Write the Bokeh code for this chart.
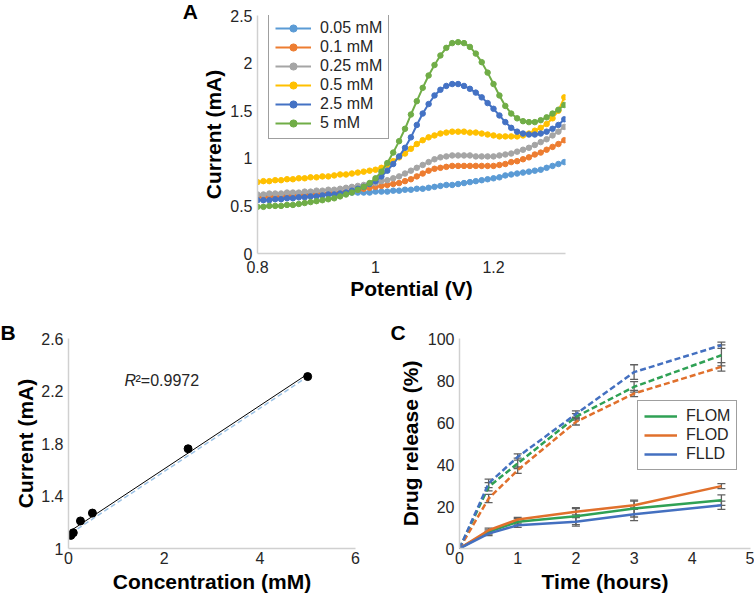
from bokeh.plotting import figure
from bokeh.models import (Legend, LegendItem, Label, Whisker, ColumnDataSource, Div, Title,
                          FixedTicker, CustomJSTickFormatter, Range1d, TeeHead)
from bokeh.layouts import row, column
from bokeh.embed import file_html
from bokeh.resources import INLINE
import numpy as np

FONT = "Liberation Sans"

# ---------------- Panel A data ----------------
potential = [0.80, 0.81, 0.82, 0.83, 0.84, 0.85, 0.86, 0.87, 0.88, 0.89, 0.90,
             0.91, 0.92, 0.93, 0.94, 0.95, 0.96, 0.97, 0.98, 0.99, 1.00,
             1.01, 1.02, 1.03, 1.04, 1.05, 1.06, 1.07, 1.08, 1.09, 1.10,
             1.11, 1.12, 1.13, 1.14, 1.15, 1.16, 1.17, 1.18, 1.19, 1.20,
             1.21, 1.22, 1.23, 1.24, 1.25, 1.26, 1.27, 1.28, 1.29, 1.30, 1.31, 1.32]
cur_005 = [0.60, 0.60, 0.61, 0.61, 0.61, 0.62, 0.62, 0.62, 0.62, 0.63, 0.63,
           0.63, 0.63, 0.63, 0.64, 0.64, 0.64, 0.64, 0.64, 0.64, 0.65,
           0.65, 0.65, 0.66, 0.66, 0.67, 0.67, 0.68, 0.68, 0.69, 0.70,
           0.71, 0.72, 0.72, 0.73, 0.74, 0.75, 0.76, 0.77, 0.78, 0.79,
           0.80, 0.82, 0.83, 0.84, 0.85, 0.86, 0.87, 0.88, 0.90, 0.92, 0.94, 0.96]
cur_01 = [0.59, 0.59, 0.59, 0.60, 0.60, 0.60, 0.61, 0.61, 0.61, 0.62, 0.62,
          0.63, 0.63, 0.64, 0.64, 0.65, 0.66, 0.67, 0.68, 0.69, 0.70,
          0.71, 0.72, 0.73, 0.74, 0.76, 0.78, 0.81, 0.84, 0.87, 0.89,
          0.90, 0.91, 0.92, 0.92, 0.92, 0.92, 0.92, 0.92, 0.92, 0.92,
          0.93, 0.94, 0.96, 0.97, 0.99, 1.01, 1.04, 1.06, 1.09, 1.12, 1.15, 1.19]
cur_025 = [0.62, 0.62, 0.63, 0.63, 0.63, 0.64, 0.64, 0.64, 0.65, 0.65, 0.66,
           0.66, 0.67, 0.67, 0.68, 0.69, 0.70, 0.71, 0.72, 0.73, 0.74,
           0.76, 0.77, 0.79, 0.81, 0.84, 0.87, 0.90, 0.93, 0.96, 0.99,
           1.01, 1.02, 1.03, 1.03, 1.03, 1.03, 1.02, 1.02, 1.02, 1.02,
           1.03, 1.04, 1.05, 1.07, 1.09, 1.11, 1.14, 1.17, 1.20, 1.24, 1.28, 1.33]
cur_05 = [0.75, 0.76, 0.76, 0.77, 0.77, 0.78, 0.78, 0.79, 0.79, 0.80, 0.80,
          0.81, 0.81, 0.82, 0.83, 0.83, 0.84, 0.85, 0.86, 0.87, 0.88,
          0.90, 0.93, 0.97, 1.01, 1.05, 1.10, 1.15, 1.19, 1.22, 1.24,
          1.26, 1.27, 1.28, 1.28, 1.28, 1.27, 1.27, 1.26, 1.25, 1.24,
          1.23, 1.23, 1.23, 1.23, 1.24, 1.26, 1.29, 1.32, 1.36, 1.42, 1.50, 1.64]
cur_25 = [0.56, 0.56, 0.56, 0.57, 0.57, 0.58, 0.58, 0.59, 0.59, 0.60, 0.60,
          0.61, 0.62, 0.62, 0.63, 0.64, 0.66, 0.68, 0.70, 0.73, 0.76,
          0.81, 0.87, 0.94, 1.02, 1.11, 1.22, 1.35, 1.47, 1.57, 1.66,
          1.72, 1.76, 1.78, 1.78, 1.76, 1.73, 1.69, 1.64, 1.58, 1.52,
          1.45, 1.38, 1.32, 1.28, 1.26, 1.25, 1.25, 1.26, 1.28, 1.31, 1.35, 1.41]
cur_5 = [0.49, 0.49, 0.50, 0.50, 0.50, 0.51, 0.51, 0.52, 0.53, 0.54, 0.55,
         0.56, 0.57, 0.58, 0.60, 0.62, 0.64, 0.67, 0.70, 0.74, 0.79,
         0.86, 0.95, 1.06, 1.18, 1.31, 1.46, 1.60, 1.74, 1.87, 1.98,
         2.08, 2.16, 2.21, 2.22, 2.21, 2.17, 2.10, 2.01, 1.90, 1.78,
         1.66, 1.55, 1.47, 1.42, 1.39, 1.38, 1.38, 1.40, 1.43, 1.47, 1.51, 1.56]
labels_A = ["0.05 mM", "0.1 mM", "0.25 mM", "0.5 mM", "2.5 mM", "5 mM"]
colors_A = ["#5B9BD5", "#ED7D31", "#A5A5A5", "#FFC000", "#4472C4", "#70AD47"]
ticks_A_x = [0.8, 1.0, 1.2]
ticks_A_y = [0, 0.5, 1, 1.5, 2, 2.5]

# ---------------- Panel B data ----------------
conc = [0.05, 0.1, 0.25, 0.5, 2.5, 5]
peak_current = [1.10, 1.12, 1.21, 1.27, 1.76, 2.31]
r2_text = "0.9972"
ticks_B_x = [0, 2, 4, 6]
ticks_B_y = [1, 1.4, 1.8, 2.2, 2.6]

# ---------------- Panel C data ----------------
time_h = [0, 0.5, 1, 2, 3, 4.5]
flom = [0, 7.9, 12.7, 15.4, 19.0, 23.0]
flod = [0, 8.7, 13.8, 17.5, 20.6, 29.7]
flld = [0, 7.1, 11.1, 12.7, 16.3, 20.6]
flom_err = [0, 1.0, 1.5, 4.0, 4.0, 2.5]
flod_err = [0, 1.0, 1.0, 1.5, 2.0, 1.2]
flld_err = [0, 1.0, 1.0, 2.0, 3.0, 2.0]
flom_dash = [0, 29.4, 40.5, 62.7, 77.0, 92.0]
flod_dash = [0, 23.8, 37.3, 60.3, 73.8, 86.5]
flld_dash = [0, 31.0, 43.6, 64.0, 84.0, 96.8]
flom_dash_err = [0, 2.0, 2.5, 1.5, 2.5, 5.0]
flod_dash_err = [0, 2.0, 1.5, 1.5, 1.5, 2.0]
flld_dash_err = [0, 2.0, 1.5, 1.5, 3.5, 1.5]
labels_C = ["FLOM", "FLOD", "FLLD"]
colors_C = ["#2FA155", "#E0702C", "#4470C0"]
ticks_C_x = [0, 1, 2, 3, 4, 5]
ticks_C_y = [0, 20, 40, 60, 80, 100]

fmt = CustomJSTickFormatter(code="return (Math.round(tick*1000)/1000).toString();")


def style(p, xt, yt, xl, yl, xstand, ystand):
    p.xaxis.ticker = FixedTicker(ticks=xt)
    p.yaxis.ticker = FixedTicker(ticks=yt)
    p.xaxis.formatter = fmt
    p.yaxis.formatter = fmt
    p.xaxis.axis_label = xl
    p.yaxis.axis_label = yl
    for ax in (p.xaxis, p.yaxis):
        ax.axis_line_color = "#D0D0D0"
        ax.axis_line_width = 1.5
        ax.major_tick_line_color = None
        ax.minor_tick_line_color = None
        ax.major_tick_in = 0
        ax.major_tick_out = 0
        ax.major_label_text_font = FONT
        ax.major_label_text_font_size = "16px"
        ax.major_label_text_color = "#262626"
        ax.axis_label_text_font = FONT
        ax.axis_label_text_font_size = "21px"
        ax.axis_label_text_font_style = "bold"
        ax.axis_label_text_color = "#000000"
    p.xaxis.major_label_standoff = xstand[0]
    p.xaxis.axis_label_standoff = xstand[1]
    p.yaxis.major_label_standoff = ystand[0]
    p.yaxis.axis_label_standoff = ystand[1]
    p.xgrid.visible = False
    p.ygrid.visible = False
    p.outline_line_color = None
    p.background_fill_color = "white"
    p.border_fill_color = "white"


def letter_title(text, offset):
    return Title(text=text, align="left", offset=offset, standoff=-10,
                 text_font=FONT, text_font_size="21px", text_font_style="bold",
                 text_color="#000000")


# ---------------- Panel A ----------------
pA = figure(width=388, height=305, output_backend="svg", toolbar_location=None,
            x_range=Range1d(0.8, 1.322), y_range=Range1d(0, 2.5),
            min_border_left=59, min_border_right=21, min_border_top=15, min_border_bottom=52)
style(pA, ticks_A_x, ticks_A_y, "Potential (V)", "Current (mA)", xstand=(7, 1), ystand=(5, 2))
itemsA = []
for lab, col, ys in zip(labels_A, colors_A, [cur_005, cur_01, cur_025, cur_05, cur_25, cur_5]):
    l = pA.line(potential, ys, line_color=col, line_width=2)
    s = pA.scatter(potential, ys, size=5.5, fill_color=col, line_color=col)
    itemsA.append(LegendItem(label=lab, renderers=[l, s]))
legA = Legend(items=itemsA, location=(11, 114), border_line_color="#404040",
              border_line_width=1, background_fill_color="white", background_fill_alpha=1,
              label_text_font=FONT, label_text_font_size="16px", label_text_color="#262626",
              glyph_width=36, glyph_height=18, label_height=18, spacing=1, padding=6,
              label_standoff=9, margin=0)
pA.add_layout(legA)

divA = Div(text="A", width=198, height=305, margin=0,
           styles={"font-family": FONT, "font-size": "21px", "font-weight": "bold",
                   "text-align": "right", "color": "#000000", "line-height": "21px",
                   "padding-top": "1px"})

# ---------------- Panel B ----------------
pB = figure(width=385, height=292, output_backend="svg", toolbar_location=None,
            x_range=Range1d(0, 6), y_range=Range1d(1, 2.6),
            title=letter_title("B", -68),
            min_border_left=68, min_border_right=30, min_border_top=33, min_border_bottom=48)
style(pB, ticks_B_x, ticks_B_y, "Concentration (mM)", "Current (mA)", xstand=(3, 3), ystand=(5, 1))
slope, intercept = np.polyfit(conc, peak_current, 1)
fx = [conc[0], conc[-1]]
fy = [intercept + slope * v for v in fx]
pB.line(fx, [v - 0.02 for v in fy], line_color="#9DC3E6", line_width=1.5, line_dash="5 3")
pB.line(fx, fy, line_color="#000000", line_width=1)
pB.scatter(conc, peak_current, size=8, fill_color="#000000", line_color="#000000")
pB.add_layout(Label(x=1.17, y=2.28, text="R", text_font=FONT, text_font_size="16px",
                    text_font_style="italic", text_baseline="middle", text_color="#262626"))
pB.add_layout(Label(x=1.17, y=2.28, x_offset=11, text="\u00b2=" + r2_text, text_font=FONT,
                    text_font_size="16px", text_baseline="middle", text_color="#262626"))

# ---------------- Panel C ----------------
pC = figure(width=369, height=292, output_backend="svg", toolbar_location=None,
            x_range=Range1d(0, 5), y_range=Range1d(0, 100),
            title=letter_title("C", -69),
            min_border_left=74, min_border_right=4, min_border_top=33, min_border_bottom=49)
style(pC, ticks_C_x, ticks_C_y, "Time (hours)", "Drug release (%)", xstand=(3, 3), ystand=(5, 3))

dash_sets = [(flom_dash, flom_dash_err, colors_C[0]),
             (flod_dash, flod_dash_err, colors_C[1]),
             (flld_dash, flld_dash_err, colors_C[2])]
solid_sets = [(flom, flom_err, colors_C[0]),
              (flod, flod_err, colors_C[1]),
              (flld, flld_err, colors_C[2])]
for ys, es, col in dash_sets:
    pC.line(time_h, ys, line_color=col, line_width=2.5, line_dash="6 3")
itemsC = []
for (ys, es, col), lab in zip(solid_sets, labels_C):
    r = pC.line(time_h, ys, line_color=col, line_width=2.5)
    itemsC.append(LegendItem(label=lab, renderers=[r]))
for ys, es, col in dash_sets + solid_sets:
    src = ColumnDataSource(dict(base=time_h,
                                upper=[a + b for a, b in zip(ys, es)],
                                lower=[a - b for a, b in zip(ys, es)]))
    pC.add_layout(Whisker(source=src, base="base", upper="upper", lower="lower",
                          line_color="#606060", line_width=1.3,
                          upper_head=TeeHead(size=8, line_color="#606060", line_width=1.3),
                          lower_head=TeeHead(size=8, line_color="#606060", line_width=1.3)))
legC = Legend(items=itemsC, location=(178, 78), border_line_color="#404040",
              border_line_width=1, background_fill_color="white", background_fill_alpha=1,
              label_text_font=FONT, label_text_font_size="16px", label_text_color="#262626",
              glyph_width=33, glyph_height=18, label_height=18, spacing=1, padding=6,
              label_standoff=9, margin=0)
pC.add_layout(legC)

layout = column(row(divA, pA), row(pB, pC))
open("out.html", "w").write(file_html(layout, INLINE))
